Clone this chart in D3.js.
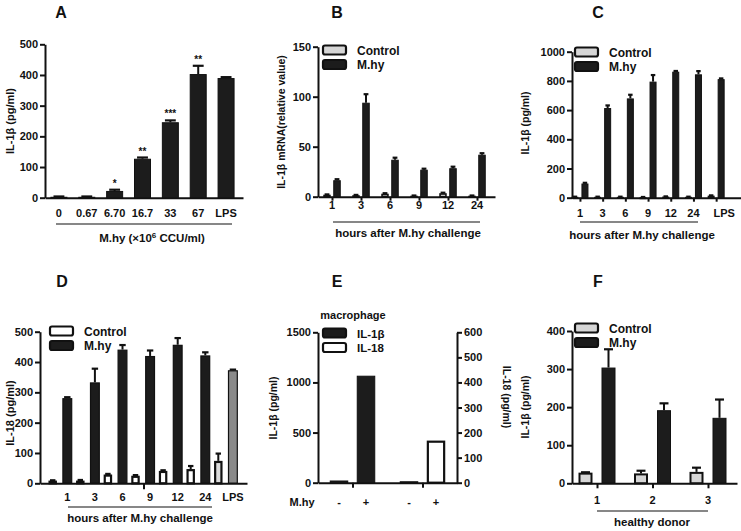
<!DOCTYPE html>
<html><head><meta charset="utf-8">
<script src="https://cdn.jsdelivr.net/npm/d3@7"></script>
<style>
body{margin:0;background:#fff}
svg{display:block}
text{font-family:"Liberation Sans",Arial,sans-serif;font-weight:bold;fill:#111}
</style>
</head><body>
<svg id="c" width="741" height="531"></svg>
<script>
// ---------- DATA ----------
// Panel A
const aCats = ["0","0.67","6.70","16.7","33","67","LPS"];
const aValues = [3,3,22,127,246,403,390];
const aErrors = [1,1,4,4,6,27,3];
const aStars = ["","","*","**","***","**",""];
const aTicks = [0,100,200,300,400,500];
// Panel B
const bCats = ["1","3","6","9","12","24"];
const bControl = [2,1.5,3,1,3.5,1];
const bControlErr = [0.3,0.3,0.5,0.2,0.5,0.2];
const bMhy = [16.5,94,37,27,28.5,42];
const bMhyErr = [1,8.5,2,1,1.5,1.5];
const bTicks = [0,50,100,150];
// Panel C
const cCats = ["1","3","6","9","12","24","LPS"];
const cControl = [6,6,6,4,8,6,14];
const cControlErr = [1,1,1,1,1,1,2];
const cMhy = [97,614,680,795,863,845,812];
const cMhyErr = [5,18,25,45,5,22,5];
const cTicks = [0,200,400,600,800,1000];
// Panel D
const dCats = ["1","3","6","9","12","24","LPS"];
const dControl = [9,9,29,25,41,47,74];
const dControlErr = [1,2,2,2,2,10,24];
const dMhy = [281,333,441,420,457,422,373];
const dMhyErr = [3,45,15,18,22,10,2];
const dTicks = [0,100,200,300,400,500];
// Panel E
const eGroups = ["IL-1β","IL-18"];
const eTreat = ["-","+"];
const eIL1b = [22,1067];
const eIL18 = [6,168];
const eLeftTicks = [0,500,1000,1500];
const eRightTicks = [0,100,200,300,400,500,600];
// Panel F
const fCats = ["1","2","3"];
const fControl = [28,26,30];
const fControlErr = [1,7,11];
const fMhy = [304,192,172];
const fMhyErr = [48,18,48];
const fTicks = [0,100,200,300,400];

// ---------- HELPERS ----------
const svg = d3.select("#c");
const INK = "#111";
const DARK = "#1c1c1c";
const LIGHT = "#d6d6d6";
const FS = 11;

function innerBand(keys, offset, bw){
  const p = 1 - bw/(2*offset);
  const w = offset*(2+p);
  return d3.scaleBand().domain(keys).range([-w,w]).paddingInner(p).paddingOuter(p);
}
function yAxis(y, x, ticks, right){
  const ax = (right? d3.axisRight(y): d3.axisLeft(y)).tickValues(ticks).tickFormat(d3.format("d"))
    .tickSize(5).tickSizeOuter(0).tickPadding(2);
  const a = svg.append("g").attr("transform",`translate(${x},0)`).call(ax);
  a.select(".domain").attr("stroke",INK).attr("stroke-width",2);
  a.selectAll(".tick line").attr("stroke",INK).attr("stroke-width",2);
  a.selectAll(".tick text").attr("font-size",FS);
}
function xLine(x0,x1,y,ticks,len){
  const s = d3.scaleLinear().domain([x0,x1]).range([x0,x1]);
  const a = svg.append("g").attr("transform",`translate(0,${y})`)
    .call(d3.axisBottom(s).tickValues(ticks||[]).tickSize(len||5).tickSizeOuter(0).tickFormat(""));
  a.select(".domain").attr("stroke",INK).attr("stroke-width",2);
  a.selectAll(".tick line").attr("stroke",INK).attr("stroke-width",2);
}
function bars(cx, vals, errs, y, bw, fill, stroke, sw){
  const g = svg.append("g");
  vals.forEach((v,i)=>{
    const f = typeof fill==="function"? fill(i): fill;
    const top = y(v), base = y(0);
    if(errs){
      const e = y(v+errs[i]);
      g.append("line").attr("x1",cx(i)).attr("x2",cx(i)).attr("y1",top).attr("y2",e).attr("stroke",INK).attr("stroke-width",2);
      g.append("line").attr("x1",cx(i)-bw*0.32).attr("x2",cx(i)+bw*0.32).attr("y1",e).attr("y2",e).attr("stroke",INK).attr("stroke-width",2.2);
    }
    g.append("rect").attr("x",cx(i)-bw/2+sw/2).attr("y",top+sw/2)
      .attr("width",Math.max(bw-sw,0.5)).attr("height",Math.max(base-top-sw/2,0.5))
      .attr("fill",f).attr("stroke",stroke).attr("stroke-width",sw);
  });
}
function txt(x,y,s,size,anchor,weight){
  return svg.append("text").attr("x",x).attr("y",y).attr("font-size",size||FS)
    .attr("text-anchor",anchor||"middle").attr("font-weight",weight||"bold").text(s);
}
function vtxt(x,y,s,size,rot){
  return svg.append("text").attr("transform",`translate(${x},${y}) rotate(${rot||-90})`)
    .attr("font-size",size||FS).attr("text-anchor","middle").text(s);
}
function legend(x,y,items,fs,weight){
  items.forEach((it,i)=>{
    svg.append("rect").attr("x",x).attr("y",y+i*14.5-4.5).attr("width",23).attr("height",9).attr("rx",2)
      .attr("fill",it.fill).attr("stroke",INK).attr("stroke-width",2.2);
    txt(x+34,y+i*14.5+4.5,it.label,fs||12,"start",weight);
  });
}
function hline(x0,x1,y){
  svg.append("line").attr("x1",x0).attr("x2",x1).attr("y1",y).attr("y2",y).attr("stroke",INK).attr("stroke-width",1.2);
}

// ---------- PANEL A ----------
{
  const y = d3.scaleLinear().domain([0,500]).range([197.7,44.3]);
  const x = d3.scaleBand().domain(aCats).range([45,240]).paddingInner(0.39).paddingOuter(0.195);
  const cx = i=>x(aCats[i])+x.bandwidth()/2;
  bars(cx,aValues,aErrors,y,x.bandwidth(),DARK,INK,1);
  yAxis(y,45,aTicks);
  xLine(45,243,197.7);
  aCats.forEach((c,i)=>txt(cx(i),217,c));
  aStars.forEach((s,i)=>{ if(s) txt(cx(i),y(aValues[i]+aErrors[i])-3,s,10); });
  hline(56,232,224);
  const t = txt(152,242,"M.hy (×10",11.5);
  t.append("tspan").attr("dy",-4).attr("font-size",8).text("6");
  t.append("tspan").attr("dy",4).text(" CCU/ml)");
  vtxt(14,121,"IL-1β (pg/ml)",11);
  txt(61,18,"A",16);
}
// ---------- PANEL B ----------
{
  const y = d3.scaleLinear().domain([0,150]).range([196.7,46.7]);
  const x = d3.scaleBand().domain(bCats).range([317.5,491.5]);
  const inner = innerBand(["Control","M.hy"],5,7.5);
  const gc = i=>x(bCats[i])+x.bandwidth()/2;
  bars(i=>gc(i)+inner("Control")+inner.bandwidth()/2,bControl,bControlErr,y,inner.bandwidth(),LIGHT,INK,1.6);
  bars(i=>gc(i)+inner("M.hy")+inner.bandwidth()/2,bMhy,bMhyErr,y,inner.bandwidth(),DARK,INK,1);
  yAxis(y,318,bTicks);
  xLine(318,495,196.7,bCats.map((c,i)=>gc(i)),4);
  bCats.forEach((c,i)=>txt(gc(i),209,c));
  hline(333,480,222);
  txt(408,237,"hours after M.hy challenge",11.5);
  legend(323,50,[{fill:LIGHT,label:"Control"},{fill:DARK,label:"M.hy"}]);
  vtxt(285,122,"IL-1β  mRNA(relative value)",10.5);
  txt(337,18,"B",16);
}
// ---------- PANEL C ----------
{
  const y = d3.scaleLinear().domain([0,1000]).range([197.7,51.7]);
  const x = d3.scaleBand().domain(cCats).range([568.6,727.5]);
  const inner = innerBand(["Control","M.hy"],5,7);
  const gc = i=>x(cCats[i])+x.bandwidth()/2;
  bars(i=>gc(i)+inner("Control")+inner.bandwidth()/2,cControl,cControlErr,y,inner.bandwidth(),LIGHT,INK,1.6);
  bars(i=>gc(i)+inner("M.hy")+inner.bandwidth()/2,cMhy,cMhyErr,y,inner.bandwidth(),DARK,INK,1);
  yAxis(y,572,cTicks);
  xLine(572,741,197.7,cCats.map((c,i)=>gc(i)),4);
  cCats.forEach((c,i)=>txt(gc(i)+(c==="LPS"?8:0),217,c));
  hline(580,698,222);
  txt(642,239,"hours after M.hy challenge",11.5);
  legend(575,52,[{fill:LIGHT,label:"Control"},{fill:DARK,label:"M.hy"}]);
  vtxt(529,123,"IL-1β (pg/ml)",10.5);
  txt(598,18,"C",16);
}
// ---------- PANEL D ----------
{
  const y = d3.scaleLinear().domain([0,500]).range([483.3,331.7]);
  const x = d3.scaleBand().domain(dCats).range([46.2,239.4]);
  const inner = innerBand(["Control","M.hy"],7.3,9.5);
  const gc = i=>x(dCats[i])+x.bandwidth()/2;
  const mx = i=>gc(i)+inner("M.hy")+inner.bandwidth()/2;
  bars(i=>gc(i)+inner("Control")+inner.bandwidth()/2,dControl,dControlErr,y,inner.bandwidth()-1,
       i=>dCats[i]==="LPS"?"#dcdcdc":"#fff",INK,2.2);
  bars(mx,dMhy,dMhyErr,y,inner.bandwidth()+0.5,i=>dCats[i]==="LPS"?"#8a8a8a":DARK,INK,1.2);
  yAxis(y,40,dTicks);
  xLine(40,247,483.3,[143.5],6);
  dCats.forEach((c,i)=>txt(mx(i),501,c));
  hline(68,212,507);
  txt(140,522,"hours after M.hy challenge",11.5);
  legend(50,331,[{fill:"#fff",label:"Control"},{fill:DARK,label:"M.hy"}]);
  vtxt(14,413,"IL-18 (pg/ml)",11);
  txt(62,287,"D",16);
}
// ---------- PANEL E ----------
{
  const yL = d3.scaleLinear().domain([0,1500]).range([482.7,332.3]);
  const yR = d3.scaleLinear().domain([0,600]).range([482.7,332.3]);
  const x = d3.scaleBand().domain(eGroups).range([317.5,457.5]);
  const inner = innerBand(eTreat,13.5,18.5);
  const gc = g=>x(g)+x.bandwidth()/2;
  const bx = (g,t)=>gc(g)+inner(t)+inner.bandwidth()/2;
  bars(i=>bx("IL-1β",eTreat[i]),eIL1b,null,yL,inner.bandwidth(),DARK,INK,1);
  bars(i=>bx("IL-18",eTreat[i]),eIL18,null,yR,inner.bandwidth(),"#fff",INK,2.2);
  yAxis(yL,318,eLeftTicks);
  yAxis(yR,457,eRightTicks,true);
  xLine(318,457,482.7,eGroups.map(gc),5);
  txt(302,506,"M.hy",11);
  eGroups.forEach(g=>eTreat.forEach(t=>txt(bx(g,t),506,t,11)));
  txt(353,319,"macrophage",11);
  legend(323,333,[{fill:DARK,label:eGroups[0]},{fill:"#fff",label:eGroups[1]}],11.5,"normal");
  vtxt(277,408,"IL-1β (pg/ml)",10.5);
  vtxt(503,397,"IL-18 (pg/ml)",10.5,90);
  txt(337,287,"E",16);
}
// ---------- PANEL F ----------
{
  const y = d3.scaleLinear().domain([0,400]).range([483.3,331]);
  const x = d3.scaleBand().domain(fCats).range([569.25,735.75]);
  const inner = innerBand(["Control","M.hy"],11.5,14);
  const gc = i=>x(fCats[i])+x.bandwidth()/2;
  bars(i=>gc(i)+inner("Control")+inner.bandwidth()/2,fControl,fControlErr,y,inner.bandwidth(),LIGHT,INK,2);
  bars(i=>gc(i)+inner("M.hy")+inner.bandwidth()/2,fMhy,fMhyErr,y,inner.bandwidth(),DARK,INK,1);
  yAxis(y,572,fTicks);
  xLine(572,737,483.3,fCats.map((c,i)=>gc(i)),5);
  fCats.forEach((c,i)=>txt(gc(i),504,c));
  hline(597,708,511);
  txt(652,526,"healthy donor",11.5);
  legend(575,328,[{fill:LIGHT,label:"Control"},{fill:DARK,label:"M.hy"}]);
  vtxt(529,407,"IL-1β (pg/ml)",10.5);
  txt(598,287,"F",16);
}
</script>
</body></html>
